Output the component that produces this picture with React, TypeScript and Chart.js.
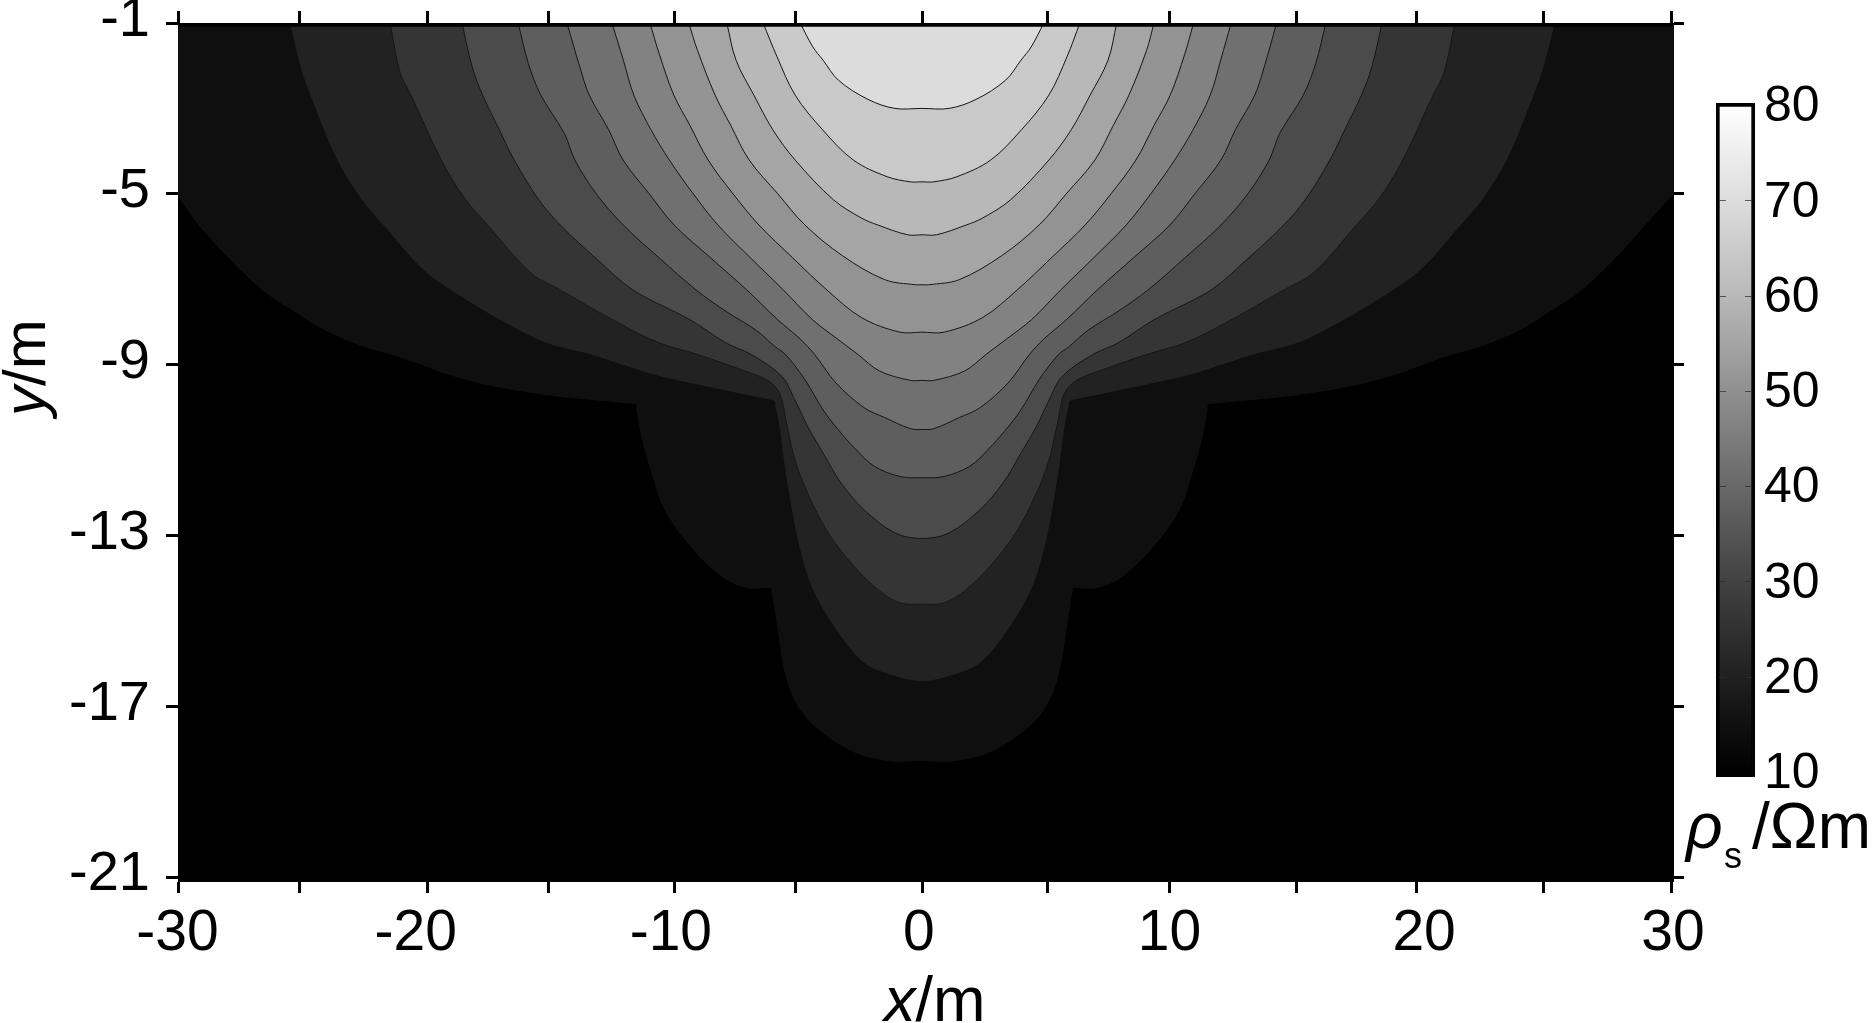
import React, { useEffect, useRef } from "react";
import { Chart, registerables } from "chart.js";

Chart.register(...registerables);

const FONT = '"Liberation Sans", Arial, sans-serif';

// Axis ticks, at the places where the picture has them
const xTickMarks = [-29.88, -25.03, -19.9, -15.04, -9.97, -5.07, 0, 5.03, 9.97, 15.04, 19.9, 25.01, 30.12];
const xLabelPlaces = [-29.94, -20.36, -10.1, -0.13, 9.95, 20.19, 30.2];
const xTickLabels = ["-30", "-20", "-10", "0", "10", "20", "30"];
const yTickValues = [-21, -17, -13, -9, -5, -1];
const barTickValues = [10, 20, 30, 40, 50, 60, 70, 80];

// Colour bar
const barGrays = ["#000000", "#202020", "#424242", "#686868", "#909090", "#b8b8b8", "#dcdcdc", "#ffffff"];

// Band colours, from the outside of the field to the inside
const backgroundGray = "#000000";
const bandGrays = ["#0f0f0f", "#222222", "#353535", "#4b4b4b", "#5e5e5e", "#707070", "#828282", "#939393", "#a5a5a5", "#b8b8b8", "#c9c9c9", "#dcdcdc"];

// Floor of the plot and its heavy upper edge
const floorX = [-29.92, 30.24];
const floorY = [-21.117, -21.117];
const topEdgeX = [-29.92, 30.24];
const topEdgeY = [-1.04, -1.04];

// Contours: outermost (c1) to innermost (c12)
const c1x = [-29.92, -29.09, -27.9, -26.54, -25.41, -24.17, -22.64, -20.88, -18.4, -15.52, -11.6, -11.5, -11.48, -11.29, -10.88, -10.36, -9.33, -8.1, -7.07, -6.2, -6.08, -6.05, -5.83, -5.52, -5.01, -4.18, -2.74, -1.3, 0, 1.3, 2.74, 4.18, 5.01, 5.52, 5.83, 6.05, 6.08, 6.2, 7.07, 8.1, 9.33, 10.36, 10.88, 11.29, 11.48, 11.5, 11.6, 15.52, 18.4, 20.88, 22.64, 24.17, 25.41, 26.54, 27.9, 29.09, 30.24];
const c1y = [-5.07, -5.73, -6.5, -7.25, -7.7, -8.15, -8.54, -8.85, -9.35, -9.68, -9.92, -9.93, -10.05, -10.68, -11.54, -12.4, -13.25, -13.95, -14.23, -14.23, -14.23, -14.32, -15.12, -16.21, -16.99, -17.54, -18.08, -18.29, -18.29, -18.29, -18.08, -17.54, -16.99, -16.21, -15.12, -14.32, -14.23, -14.23, -14.23, -13.95, -13.25, -12.4, -11.54, -10.68, -10.05, -9.93, -9.92, -9.68, -9.35, -8.85, -8.54, -8.15, -7.7, -7.25, -6.5, -5.73, -5.0];

const c2x = [-25.41, -24.99, -24.59, -23.51, -22.52, -21.66, -20.05, -18.94, -16.75, -15.1, -13.28, -10.98, -9.54, -7.69, -6.05, -5.93, -5.9, -5.73, -5.52, -5.21, -4.9, -4.39, -3.36, -2.33, -1.3, 0, 1.3, 2.33, 3.36, 4.39, 4.9, 5.21, 5.52, 5.73, 5.9, 5.93, 6.05, 7.69, 9.54, 10.98, 13.28, 15.1, 16.75, 18.94, 20.05, 21.66, 22.52, 23.51, 24.59, 24.99, 25.45];
const c2y = [-1, -2.03, -2.69, -4.21, -5.14, -5.73, -6.78, -7.25, -8.02, -8.49, -8.77, -9.2, -9.4, -9.63, -9.83, -9.86, -9.95, -10.45, -11.38, -12.47, -13.33, -14.26, -15.28, -15.98, -16.25, -16.41, -16.25, -15.98, -15.28, -14.26, -13.33, -12.47, -11.38, -10.45, -9.95, -9.86, -9.83, -9.63, -9.4, -9.2, -8.77, -8.49, -8.02, -7.25, -6.78, -5.73, -5.14, -4.21, -2.69, -2.03, -1];

const c3x = [-21.39, -20.98, -20.55, -19.33, -18.4, -17.47, -15.72, -14.55, -12.22, -10.57, -8.99, -7.27, -6.24, -5.73, -5.42, -5.11, -4.6, -3.77, -2.74, -1.71, -0.89, 0, 0.89, 1.71, 2.74, 3.77, 4.6, 5.11, 5.42, 5.73, 6.24, 7.27, 8.99, 10.57, 12.22, 14.55, 15.72, 17.47, 18.4, 19.33, 20.55, 20.98, 21.43];
const c3y = [-1, -2.18, -2.69, -4.21, -5.1, -5.73, -6.86, -7.25, -8.02, -8.49, -8.77, -9.12, -9.36, -9.67, -10.45, -11.23, -12.01, -12.94, -13.72, -14.3, -14.58, -14.61, -14.58, -14.3, -13.72, -12.94, -12.01, -11.23, -10.45, -9.67, -9.36, -9.12, -8.77, -8.49, -8.02, -7.25, -6.86, -5.73, -5.1, -4.21, -2.69, -2.18, -1];

const c4x = [-18.5, -18.09, -17.67, -17.0, -16.4, -15.41, -14.55, -13.04, -11.63, -9.33, -7.89, -6.85, -5.63, -5.11, -4.6, -3.98, -3.26, -2.33, -1.09, 0, 1.09, 2.33, 3.26, 3.98, 4.6, 5.11, 5.63, 6.85, 7.89, 9.33, 11.63, 13.04, 14.55, 15.41, 16.4, 17.0, 17.67, 18.09, 18.5];
const c4y = [-1, -2.03, -2.69, -3.5, -4.21, -5.14, -5.73, -6.55, -7.25, -7.95, -8.49, -8.77, -9.28, -9.83, -10.45, -11.07, -11.77, -12.4, -12.94, -13.07, -12.94, -12.4, -11.77, -11.07, -10.45, -9.83, -9.28, -8.77, -8.49, -7.95, -7.25, -6.55, -5.73, -5.14, -4.21, -3.5, -2.69, -2.03, -1];

const c5x = [-16.24, -15.83, -15.33, -14.38, -13.96, -13.1, -12.02, -10.57, -9.09, -7.89, -6.66, -5.93, -5.48, -4.7, -3.98, -3.36, -2.64, -1.92, -0.89, 0, 0.89, 1.92, 2.64, 3.36, 3.98, 4.7, 5.48, 5.93, 6.66, 7.89, 9.09, 10.57, 12.02, 13.1, 13.96, 14.38, 15.33, 15.83, 16.24];
const c5y = [-1, -1.95, -2.69, -3.59, -4.21, -5.0, -5.73, -6.5, -7.25, -7.75, -8.2, -8.57, -8.77, -9.36, -10.06, -10.53, -11.0, -11.38, -11.62, -11.65, -11.62, -11.38, -11.0, -10.53, -10.06, -9.36, -8.77, -8.57, -8.2, -7.75, -7.25, -6.5, -5.73, -5.0, -4.21, -3.59, -2.69, -1.95, -1];

const c6x = [-14.28, -13.76, -13.38, -12.6, -12.02, -10.97, -9.97, -8.5, -7.05, -5.8, -4.9, -4.31, -3.46, -2.33, -1.5, -0.47, 0, 0.47, 1.5, 2.33, 3.46, 4.31, 4.9, 5.8, 7.05, 8.5, 9.97, 10.97, 12.02, 12.6, 13.38, 13.76, 14.26];
const c6y = [-1, -2.03, -2.69, -3.5, -4.21, -5.0, -5.73, -6.5, -7.25, -7.95, -8.4, -8.77, -9.43, -10.01, -10.24, -10.5, -10.52, -10.5, -10.24, -10.01, -9.43, -8.77, -8.4, -7.95, -7.25, -6.5, -5.73, -5.0, -4.21, -3.5, -2.69, -2.03, -1];

const c7x = [-12.47, -12.01, -11.59, -10.9, -10.16, -9.2, -8.21, -6.9, -5.58, -4.4, -3.4, -2.56, -1.71, -0.47, 0, 0.47, 1.71, 2.56, 3.4, 4.4, 5.58, 6.9, 8.21, 9.2, 10.16, 10.9, 11.59, 12.01, 12.43];
const c7y = [-1, -1.87, -2.69, -3.5, -4.21, -5.0, -5.73, -6.5, -7.25, -7.95, -8.4, -8.77, -9.15, -9.37, -9.37, -9.37, -9.15, -8.77, -8.4, -7.95, -7.25, -6.5, -5.73, -5.0, -4.21, -3.5, -2.69, -1.87, -1];

const c8x = [-10.94, -10.57, -9.98, -9.33, -8.6, -7.6, -6.56, -5.2, -3.83, -2.43, -0.89, 0, 0.89, 2.43, 3.83, 5.2, 6.56, 7.6, 8.6, 9.33, 9.98, 10.57, 10.92];
const c8y = [-1, -1.72, -2.69, -3.4, -4.21, -5.0, -5.73, -6.5, -7.25, -7.9, -8.24, -8.24, -8.24, -7.9, -7.25, -6.5, -5.73, -5.0, -4.21, -3.4, -2.69, -1.72, -1];

const c9x = [-9.38, -9.03, -8.32, -7.69, -6.95, -5.8, -4.71, -3.2, -1.5, -0.27, 0, 0.27, 1.5, 3.2, 4.71, 5.8, 6.95, 7.69, 8.32, 9.03, 9.33];
const c9y = [-1, -1.64, -2.69, -3.4, -4.21, -5.0, -5.73, -6.45, -7.01, -7.13, -7.13, -7.13, -7.01, -6.45, -5.73, -5.0, -4.21, -3.4, -2.69, -1.64, -1];

const c10x = [-7.85, -7.48, -6.76, -6.0, -5.1, -3.56, -2.43, -1.78, -0.58, 0, 0.58, 1.78, 2.43, 3.56, 5.1, 6.0, 6.76, 7.48, 7.83];
const c10y = [-1, -1.87, -2.69, -3.5, -4.21, -5.14, -5.57, -5.73, -5.96, -5.96, -5.96, -5.73, -5.57, -5.14, -4.21, -3.5, -2.69, -1.87, -1];

const c11x = [-6.39, -5.83, -5.1, -4.0, -2.76, -1.4, -0.47, 0, 0.47, 1.4, 2.76, 4.0, 5.1, 5.83, 6.35];
const c11y = [-1, -1.79, -2.69, -3.5, -4.21, -4.6, -4.72, -4.72, -4.72, -4.6, -4.21, -3.5, -2.69, -1.79, -1];

const c12x = [-4.9, -4.39, -3.98, -3.36, -2.17, -1.09, 0, 1.09, 2.17, 3.36, 3.98, 4.39, 4.9];
const c12y = [-1, -1.56, -1.87, -2.34, -2.79, -3.0, -3.0, -3.0, -2.79, -2.34, -1.87, -1.56, -1];

const contourXs = [c1x, c2x, c3x, c4x, c5x, c6x, c7x, c8x, c9x, c10x, c11x, c12x];
const contourYs = [c1y, c2y, c3y, c4y, c5y, c6y, c7y, c8y, c9y, c10y, c11y, c12y];

const pairs = (xs: number[], ys: number[]) => xs.map((x, i) => ({ x, y: ys[i] }));

const fixTicks = (values: number[]) => (scale: any) => {
  scale.ticks = values.map((value) => ({ value }));
};
const fitSize = (prop: "width" | "height", size: number) => (scale: any) => {
  scale[prop] = size;
  scale.paddingTop = 0;
  scale.paddingBottom = 0;
  scale.paddingLeft = 0;
  scale.paddingRight = 0;
};
const tickGrid = { display: true, drawOnChartArea: false, drawTicks: true, color: "#000", tickColor: "#000", tickWidth: 3 };
const xMin = -29.92;
const xMax = 30.24;

const textStyle = (left: number, baseline: number, size: number, italic = false): React.CSSProperties => ({
  position: "absolute",
  left,
  top: baseline - 0.8465 * size,
  fontFamily: FONT,
  fontSize: size,
  lineHeight: 1,
  fontStyle: italic ? "italic" : "normal",
  color: "#000",
  whiteSpace: "nowrap",
});

export default function App() {
  const mapRef = useRef<HTMLCanvasElement>(null);
  const barRef = useRef<HTMLCanvasElement>(null);

  useEffect(() => {
    const map = new Chart(mapRef.current!, {
      type: "line",
      data: {
        datasets: [
          {
            data: pairs(floorX, floorY),
            backgroundColor: backgroundGray,
            borderWidth: 0,
            fill: "end",
            pointRadius: 0,
            order: 30,
          },
          ...contourXs.map((xs, i) => ({
            data: pairs(xs, contourYs[i]),
            backgroundColor: bandGrays[i],
            borderColor: "#161616",
            borderWidth: i < 2 ? 0 : 1,
            fill: "end",
            pointRadius: 0,
            tension: 0.35,
            order: 20 - i,
          })),
          {
            data: pairs(topEdgeX, topEdgeY),
            borderColor: "#000",
            borderWidth: 4,
            fill: false,
            pointRadius: 0,
            order: 0,
          },
        ] as any,
      },
      options: {
        responsive: false,
        animation: false,
        layout: { padding: 0 },
        plugins: { legend: { display: false }, tooltip: { enabled: false } },
        scales: {
          x: {
            type: "linear",
            position: "bottom",
            weight: 0,
            min: xMin,
            max: xMax,
            afterBuildTicks: fixTicks(xTickMarks),
            afterFit: fitSize("height", 0),
            grid: { ...tickGrid, tickLength: 11 },
            border: { display: false },
            ticks: { display: false, autoSkip: false },
          },
          xLabels: {
            type: "linear",
            position: "bottom",
            weight: 1,
            min: xMin,
            max: xMax,
            afterBuildTicks: fixTicks(xLabelPlaces),
            afterFit: fitSize("height", 141),
            grid: { display: false, drawTicks: false },
            border: { display: false },
            ticks: {
              autoSkip: false,
              maxRotation: 0,
              padding: 18,
              color: "#000",
              font: { family: FONT, size: 57 },
              callback: (_v: any, i: number) => xTickLabels[i],
            },
          },
          xTop: {
            type: "linear",
            position: "top",
            min: xMin,
            max: xMax,
            afterBuildTicks: fixTicks(xTickMarks),
            afterFit: fitSize("height", 23),
            grid: { ...tickGrid, tickLength: 12 },
            border: { display: false },
            ticks: { display: false, autoSkip: false },
          },
          y: {
            type: "linear",
            position: "left",
            min: -21.117,
            max: -1,
            afterBuildTicks: fixTicks(yTickValues),
            afterFit: fitSize("width", 178),
            grid: { ...tickGrid, tickLength: 12 },
            border: { display: false },
            ticks: {
              autoSkip: false,
              padding: 16,
              labelOffset: -2,
              color: "#000",
              font: { family: FONT, size: 56 },
              callback: (v: any) => String(v),
            },
          },
          yRight: {
            type: "linear",
            position: "right",
            min: -21.117,
            max: -1,
            afterBuildTicks: fixTicks(yTickValues),
            afterFit: fitSize("width", 199),
            grid: { ...tickGrid, tickLength: 10 },
            border: { display: false },
            ticks: { display: false, autoSkip: false },
          },
        },
      } as any,
    });

    const barMin = 9.53;
    const barMax = 80.26;
    const bar = new Chart(barRef.current!, {
      type: "bar",
      data: {
        labels: ["rho"],
        datasets: [
          {
            data: [[barMin, barMax]],
            borderColor: "#000",
            borderWidth: 4,
            borderSkipped: false,
            barPercentage: 1,
            categoryPercentage: 1,
            backgroundColor: (ctx: any) => {
              const { chart } = ctx;
              const yScale = chart.scales.y;
              if (!chart.chartArea || !yScale) return "#888";
              const g = chart.ctx.createLinearGradient(0, yScale.getPixelForValue(10), 0, yScale.getPixelForValue(80));
              barGrays.forEach((c, i) => g.addColorStop(i / (barGrays.length - 1), c));
              return g;
            },
          },
        ] as any,
      },
      options: {
        responsive: false,
        animation: false,
        layout: { padding: { left: 16, top: 43, bottom: 33, right: 0 } },
        plugins: { legend: { display: false }, tooltip: { enabled: false } },
        scales: {
          x: { display: false },
          y: {
            type: "linear",
            position: "right",
            min: barMin,
            max: barMax,
            afterBuildTicks: fixTicks(barTickValues),
            afterFit: fitSize("width", 118),
            grid: {
              z: 1,
              drawTicks: false,
              lineWidth: 1,
              color: (ctx: any) => {
                const v = ctx.tick?.value;
                return v === 10 || v === 80 ? "rgba(0,0,0,0)" : "rgba(45,45,45,0.75)";
              },
            },
            border: { display: false, dash: [7, 19, 7], dashOffset: -3 },
            ticks: {
              autoSkip: false,
              padding: 9,
              labelOffset: 2,
              color: "#000",
              font: { family: FONT, size: 50 },
              callback: (v: any) => String(v),
            },
          },
        },
      } as any,
    });

    return () => {
      map.destroy();
      bar.destroy();
    };
  }, []);

  return (
    <div style={{ position: "absolute", left: 0, top: 0, width: 1873, height: 1023, background: "#fff", overflow: "hidden" }}>
      <canvas ref={mapRef} width={1873} height={1023} style={{ position: "absolute", left: 0, top: 0, display: "block" }} />
      <canvas ref={barRef} width={173} height={750} style={{ position: "absolute", left: 1700, top: 60, display: "block" }} />
      <div style={{ ...textStyle(884, 1021, 63) }}>
        <i>x</i>/m
      </div>
      <div
        style={{
          ...textStyle(25, 416, 60),
          top: 416,
          left: 25,
          lineHeight: 0,
          transformOrigin: "0 0",
          transform: "rotate(-90deg)",
        }}
      >
        <i>y</i>/m
      </div>
      <div style={textStyle(1686, 848, 64, true)}>ρ</div>
      <div style={textStyle(1724, 868, 36)}>s</div>
      <div style={textStyle(1752, 848, 64)}>/Ωm</div>
    </div>
  );
}
